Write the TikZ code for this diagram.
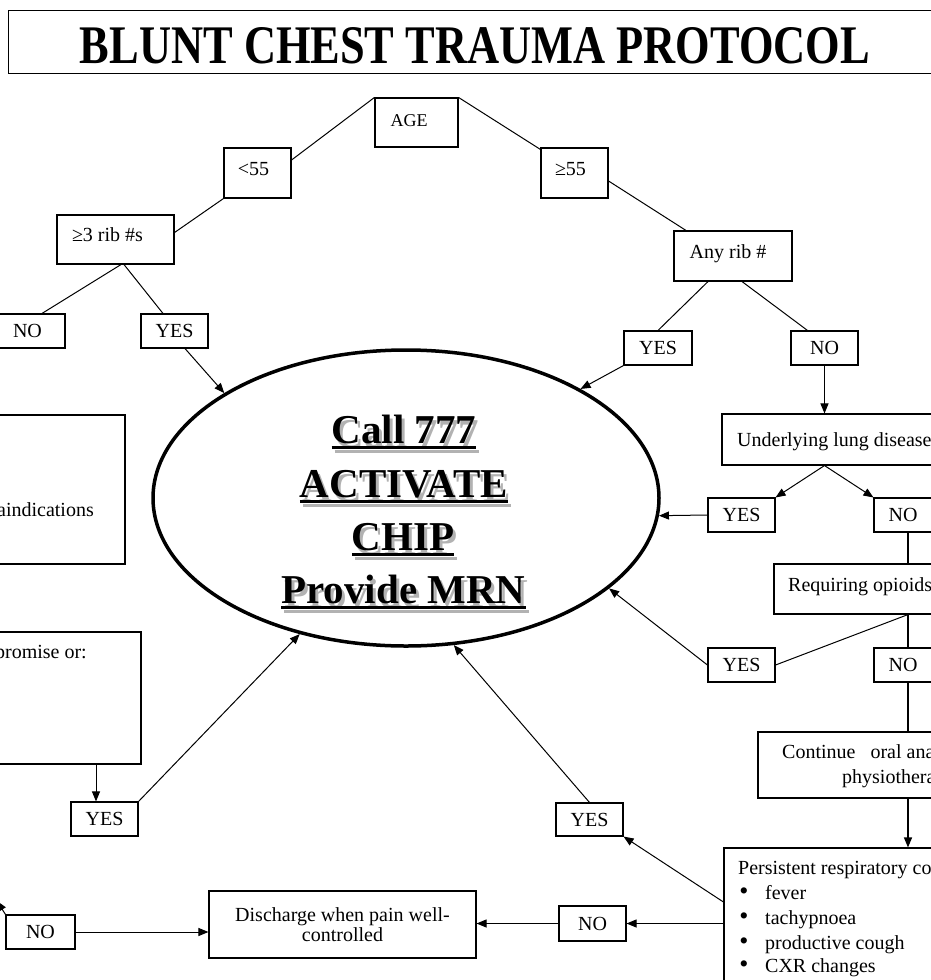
\documentclass[tikz,border=0pt]{standalone}
\usepackage{fontspec}
\setmainfont{Liberation Serif}
\usetikzlibrary{arrows.meta,shapes.geometric}
\newcommand{\ulw}[1]{\setbox0=\hbox{#1}\vtop{\hbox{\copy0}\kern2.5pt\hrule height 3pt width \wd0}}
\newcommand{\bx}[6]{\node[box, minimum width={#4-#2}, minimum height={#5-#3}] (#1) at ({(#2+#4)/2},{(#3+#5)/2}) {#6};}
\begin{document}
\begin{tikzpicture}[x=1pt,y=-1pt,
  box/.style={draw, line width=1.1pt, inner sep=0pt, font=\fontsize{20}{20}\selectfont, align=center},
  txt/.style={inner sep=0pt, font=\fontsize{20}{24}\selectfont},
  conn/.style={line width=1pt},
  thickconn/.style={line width=1.7pt},
  arr/.style={line width=1pt, -{Triangle[length=10pt,width=8pt]}},
  big/.style={inner sep=0pt, font=\fontsize{41}{48}\selectfont\bfseries, anchor=base},
]
\useasboundingbox (0,0) rectangle (930,980);

% title
\node[draw, line width=1.3pt, minimum width=940, minimum height=63, inner sep=0pt, anchor=north west] (titlebox) at (8,10) {};
\node[inner sep=0pt, anchor=base] (title) at (475,63) {\resizebox{790pt}{36pt}{\bfseries BLUNT CHEST TRAUMA PROTOCOL}};

% top tree
\bx{age}{375}{98}{458}{147}{}
\node[txt, anchor=base, font=\fontsize{18}{18}\selectfont] (aget) at (409,126) {AGE};
\bx{lt55}{224}{148}{291}{198}{}
\node[txt, anchor=base] (lt55t) at (253.5,175) {<55};
\bx{ge55}{541}{148}{608}{198}{}
\node[txt, anchor=base] (ge55t) at (570.5,175) {≥55};
\bx{ge3}{57}{215}{174}{264}{}
\node[txt, anchor=base] (ge3t) at (107.5,241) {≥3 rib \#s};
\bx{anyrib}{674}{231}{792}{281}{}
\node[txt, anchor=base] (anyribt) at (728,258) {Any rib \#};
\bx{noTL}{-10}{314}{65}{348}{NO}
\bx{yesTL}{141}{314}{208}{348}{YES}
\bx{yesTR}{624}{331}{692}{365}{YES}
\bx{noTR}{791}{331}{858}{365}{NO}

% right column
\bx{uld}{722}{414}{960}{465}{}
\node[txt, anchor=base west] (uldt) at (737,446) {Underlying lung disease};
\bx{yes3}{708}{498}{775}{532}{YES}
\bx{no3}{874}{498}{942}{532}{\hspace*{-10pt}NO}
\bx{req}{774}{564}{960}{614}{}
\node[txt, anchor=base west] (reqt) at (788,591) {Requiring opioids};
\bx{yes4}{708}{648}{775}{682}{YES}
\bx{no4}{874}{648}{942}{682}{\hspace*{-10pt}NO}
\bx{cont}{758}{732}{1000}{798}{}
\node[txt, anchor=base west] (contt1) at (782,758) {Continue \ \ oral ana};
\node[txt, anchor=base west] (contt2) at (842,783) {physiothera};
\bx{pers}{724}{848}{1000}{1000}{}
\node[txt, anchor=base west] (perst) at (738,874) {Persistent respiratory co};
\node[txt, anchor=base] (pb1) at (744,899) {\fontsize{26}{26}\selectfont •};
\node[txt, anchor=base west] (pt1) at (765,899) {fever};
\node[txt, anchor=base] (pb2) at (744,924) {\fontsize{26}{26}\selectfont •};
\node[txt, anchor=base west] (pt2) at (765,924) {tachypnoea};
\node[txt, anchor=base] (pb3) at (744,949) {\fontsize{26}{26}\selectfont •};
\node[txt, anchor=base west] (pt3) at (765,949) {productive cough};
\node[txt, anchor=base] (pb4) at (744,972) {\fontsize{26}{26}\selectfont •};
\node[txt, anchor=base west] (pt4) at (765,972) {CXR changes};

% bottom row
\bx{yesM}{556}{803}{623}{836}{YES}
\bx{noM}{559}{906}{626}{941}{NO}
\bx{disch}{209}{891}{476}{958}{Discharge when pain well-\\controlled}
\bx{noLB}{6}{915}{75}{949}{NO}

% left column
\bx{boxL1}{-20}{415}{125}{564}{}
\node[txt, anchor=base east] (boxL1t) at (94,516) {aindications};
\bx{boxL2}{-20}{632}{141}{764}{}
\node[txt, anchor=base east] (boxL2t) at (87,658) {promise or:};
\bx{yesL}{71}{802}{138}{836}{YES}

% central ellipse
\node[draw, ellipse, line width=3.5pt, minimum width=506, minimum height=296, inner sep=0pt] (ell) at (406,498) {};
\node[big, text=black!30] (s1) at (407,447) {\ulw{Call 777}};
\node[big, text=black!30] (s2) at (407,501) {\ulw{ACTIVATE}};
\node[big, text=black!30] (s3) at (406,554) {\ulw{CHIP}};
\node[big, text=black!30] (s4) at (406.5,607) {\ulw{Provide MRN}};
\node[big] (l1) at (404,443) {\ulw{Call 777}};
\node[big] (l2) at (404,497) {\ulw{ACTIVATE}};
\node[big] (l3) at (403,550) {\ulw{CHIP}};
\node[big] (l4) at (403.5,603) {\ulw{Provide MRN}};

% coordinates
\coordinate (yl) at ([xshift=-8.5pt]yesL.north);
\coordinate (offl) at (-3,901);

% connectors
\draw[conn] (age.north west) -- ([yshift=13pt]lt55.east);
\draw[conn] (age.north east) -- ([yshift=-2pt]ge55.north west);
\draw[conn] (lt55.south west) -- ([yshift=7pt]ge3.east);
\draw[conn] ([yshift=-8pt]ge55.east) -- ([xshift=-47pt]anyrib.north);
\draw[conn] ([xshift=-25pt]anyrib.south) -- (yesTR.north);
\draw[conn] ([xshift=9pt]anyrib.south) -- ([xshift=-17pt]noTR.north);
\draw[conn] ([xshift=5.5pt]ge3.south) -- ([xshift=14.5pt]noTL.north);
\draw[conn] ([xshift=8.5pt]ge3.south) -- ([xshift=-11.5pt]yesTL.north);
\draw[arr] ([xshift=10.5pt]yesTL.south) -- (ell.150);
\draw[arr] (yesTR.south west) -- (ell.32);
\draw[arr] (noTR.south) -- (uld.north -| noTR.south);
\draw[arr] (uld.south -| noTR.south) -- (yes3.north east);
\draw[arr] (uld.south -| noTR.south) -- (no3.north west);
\draw[arr] (yes3.west) -- (ell.-4);
\draw[thickconn] (no3.south) -- (no3.south |- req.north);
\draw[conn] (no3.south |- req.south) -- (yes4.east);
\draw[thickconn] (no3.south |- req.south) -- (no4.north);
\draw[arr] (yes4.west) -- (ell.-24);
\draw[thickconn] (no4.south) -- (no4.south |- cont.north);
\draw[arr, line width=1.3pt] (no4.south |- cont.south) -- (no4.south |- pers.north);
\draw[arr] ([yshift=22pt]pers.west) -- (yesM.south east);
\draw[arr] (pers.west |- noM.east) -- (noM.east);
\draw[arr] (noM.west) -- (noM.west -| disch.east);
\draw[arr] (noLB.east) -- (noLB.east -| disch.west);
\draw[arr] (noLB.north west) -- (offl);
\draw[arr] (yesM.north) -- (ell.-72);
\draw[arr] (yesL.north east) -- (ell.-128);
\draw[arr] (boxL2.south -| yl) -- (yl);
\end{tikzpicture}
\end{document}
